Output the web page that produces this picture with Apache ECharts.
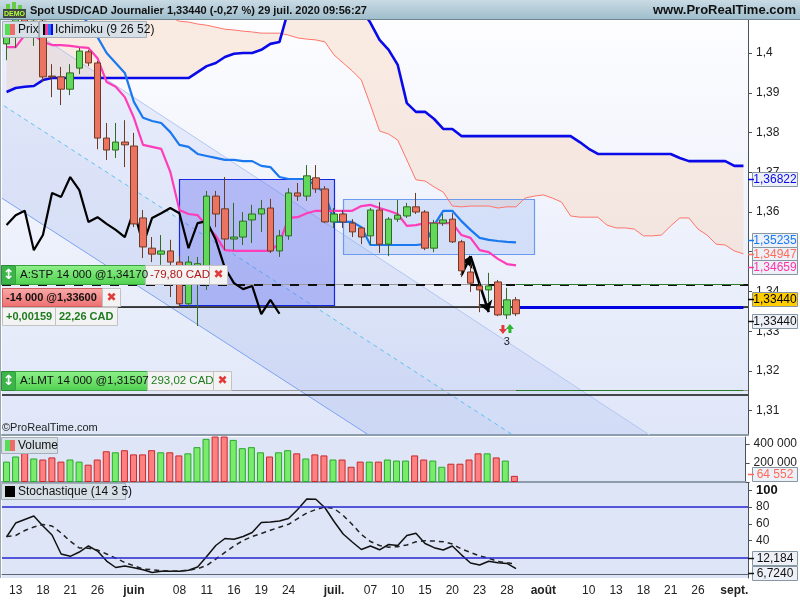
<!DOCTYPE html>
<html>
<head>
<meta charset="utf-8">
<script src="https://cdn.jsdelivr.net/npm/echarts@6.0.0/dist/echarts.min.js"></script>
<style>
html,body{margin:0;padding:0;background:#ffffff;}
#chart{width:800px;height:600px;}
</style>
</head>
<body>
<div id="chart"></div>
<script>
// ---------- categories (trading days) ----------
const dates = [
'2020-05-12','2020-05-13','2020-05-14','2020-05-15','2020-05-18','2020-05-19','2020-05-20','2020-05-21','2020-05-22','2020-05-25','2020-05-26','2020-05-27','2020-05-28','2020-05-29',
'2020-06-01','2020-06-02','2020-06-03','2020-06-04','2020-06-05','2020-06-08','2020-06-09','2020-06-10','2020-06-11','2020-06-12','2020-06-15','2020-06-16','2020-06-17','2020-06-18','2020-06-19','2020-06-22','2020-06-23','2020-06-24','2020-06-25','2020-06-26','2020-06-29','2020-06-30',
'2020-07-01','2020-07-02','2020-07-03','2020-07-06','2020-07-07','2020-07-08','2020-07-09','2020-07-10','2020-07-13','2020-07-14','2020-07-15','2020-07-16','2020-07-17','2020-07-20','2020-07-21','2020-07-22','2020-07-23','2020-07-24','2020-07-27','2020-07-28','2020-07-29','2020-07-30','2020-07-31',
'2020-08-03','2020-08-04','2020-08-05','2020-08-06','2020-08-07','2020-08-10','2020-08-11','2020-08-12','2020-08-13','2020-08-14','2020-08-17','2020-08-18','2020-08-19','2020-08-20','2020-08-21','2020-08-24','2020-08-25','2020-08-26','2020-08-27','2020-08-28','2020-08-31',
'2020-09-01','2020-09-02'];

const tickDates = ['2020-05-13','2020-05-18','2020-05-21','2020-05-26','2020-06-01','2020-06-08','2020-06-11','2020-06-16','2020-06-19','2020-06-24','2020-07-01','2020-07-07','2020-07-10','2020-07-15','2020-07-20','2020-07-23','2020-07-28','2020-08-03','2020-08-10','2020-08-13','2020-08-18','2020-08-21','2020-08-26','2020-09-01'];
const tickTexts = ['13','18','21','26','juin','08','11','16','19','24','juil.','07','10','15','20','23','28','août','10','13','18','21','26','sept.'];
const monthTexts = ['juin','juil.','août','sept.'];

const priceTicks = [1.31,1.32,1.33,1.34,1.35,1.36,1.37,1.38,1.39,1.40];
const stochTicks = [40,60,80,100];

// ---------- candles [open, close, low, high] ----------
const candles = [
[1.4023,1.4048,1.3982,1.4068],[1.4048,1.4085,1.4013,1.4110],[1.4085,1.4065,1.4040,1.4130],[1.4065,1.4080,1.4018,1.4105],
[1.4080,1.3940,1.3927,1.4095],[1.3942,1.3940,1.3889,1.3972],[1.3940,1.3909,1.3869,1.3965],[1.3909,1.3950,1.3894,1.3972],
[1.3962,1.4005,1.3947,1.4013],[1.4003,1.3975,1.3967,1.4008],[1.3975,1.3786,1.3758,1.3980],[1.3786,1.3756,1.3731,1.3824],
[1.3756,1.3776,1.3736,1.3824],[1.3776,1.3769,1.3713,1.3831],
[1.3766,1.3570,1.3562,1.3799],[1.3585,1.3512,1.3484,1.3605],[1.3509,1.3494,1.3474,1.3537],[1.3494,1.3502,1.3467,1.3542],
[1.3502,1.3474,1.3386,1.3530],[1.3474,1.3369,1.3361,1.3490],[1.3369,1.3474,1.3361,1.3489],[1.3445,1.3470,1.3313,1.3487],
[1.3421,1.3640,1.3404,1.3653],[1.3640,1.3595,1.3562,1.3653],[1.3608,1.3532,1.3504,1.3688],[1.3532,1.3537,1.3504,1.3623],
[1.3537,1.3577,1.3517,1.3600],[1.3580,1.3595,1.3522,1.3618],[1.3595,1.3608,1.3550,1.3630],[1.3610,1.3502,1.3497,1.3633],
[1.3502,1.3540,1.3487,1.3555],[1.3540,1.3648,1.3530,1.3660],[1.3648,1.3640,1.3628,1.3673],[1.3640,1.3691,1.3628,1.3718],
[1.3686,1.3658,1.3648,1.3718],[1.3658,1.3575,1.3572,1.3665],
[1.3575,1.3595,1.3560,1.3610],[1.3595,1.3575,1.3560,1.3605],[1.3572,1.3550,1.3537,1.3582],[1.3560,1.3537,1.3519,1.3562],
[1.3540,1.3605,1.3517,1.3610],[1.3605,1.3519,1.3497,1.3625],[1.3519,1.3582,1.3489,1.3587],[1.3582,1.3592,1.3575,1.3630],
[1.3590,1.3613,1.3585,1.3623],[1.3613,1.3600,1.3595,1.3648],[1.3600,1.3509,1.3504,1.3605],[1.3509,1.3572,1.3499,1.3580],
[1.3572,1.3580,1.3565,1.3595],[1.3582,1.3525,1.3522,1.3597],[1.3525,1.3452,1.3436,1.3530],[1.3449,1.3421,1.3399,1.3467],
[1.3414,1.3404,1.3348,1.3421],[1.3404,1.3414,1.3374,1.3447],[1.3424,1.3341,1.3338,1.3429],[1.3341,1.3379,1.3331,1.3409],
[1.3379,1.3344,1.3338,1.3386]];

const volumes = [214000,268000,304000,247000,236000,258000,214000,236000,214000,182000,236000,323000,312000,334000,
290000,290000,334000,312000,312000,279000,301000,366000,453000,520000,510000,442000,355000,366000,312000,268000,
312000,334000,301000,247000,290000,279000,236000,236000,160000,214000,214000,214000,236000,225000,225000,279000,
236000,225000,160000,192000,192000,236000,301000,301000,258000,225000,64552];

// ---------- Ichimoku (9 26 52) ----------
const tenkan = [1.4015,1.4015,1.4045,1.4045,1.4028,1.4020,1.4020,1.4018,1.4015,1.4013,1.3987,1.3927,1.3915,1.3889,
1.3837,1.3769,1.3764,1.3759,1.3701,1.3605,1.3595,1.3592,1.3565,1.3540,1.3504,1.3502,1.3502,1.3502,1.3502,1.3502,
1.3522,1.3585,1.3587,1.3597,1.3603,1.3603,1.3603,1.3603,1.3603,1.3615,1.3618,1.3610,1.3603,1.3595,1.3565,1.3567,
1.3572,1.3572,1.3572,1.3572,1.3542,1.3535,1.3504,1.3499,1.3482,1.3469,1.34659];

const kijun = [1.4100,1.4100,1.4100,1.4100,1.4100,1.4100,1.4100,1.4100,1.4100,1.4075,1.4040,1.4000,1.3975,1.3950,
1.3877,1.3837,1.3829,1.3824,1.3801,1.3769,1.3764,1.3746,1.3741,1.3736,1.3731,1.3731,1.3728,1.3728,1.3716,1.3713,
1.3688,1.3683,1.3683,1.3683,1.3665,1.3648,1.3575,1.3575,1.3575,1.3562,1.3517,1.3517,1.3517,1.3517,1.3517,1.3517,
1.3519,1.3567,1.3603,1.3603,1.3577,1.3555,1.3535,1.3530,1.3527,1.3525,1.35235];

const chikou = [1.3567,1.3592,1.3603,1.3504,1.3542,1.3648,1.3638,1.3688,1.3655,1.3575,1.3587,1.3570,1.3555,1.3537,
1.3605,1.3517,1.3585,1.3597,1.3610,1.3597,1.3509,1.3572,1.3577,1.3530,1.3459,1.3421,1.3406,1.3414,1.3343,1.3379,1.3344];

const spanA = [1.3902,1.3912,1.3915,1.3917,1.3932,
1.3937,1.3937,1.3937,1.3937,1.3937,1.3937,1.3937,1.3937,1.3937,1.3937,1.3937,1.3937,1.3937,1.3937,1.3937,1.3937,
1.3952,1.3967,1.3975,1.3990,1.3998,1.4000,1.4000,1.4008,1.4023,1.4028,
1.4110,1.4150,1.4150,1.4150,1.4150,1.4150,1.4150,1.4150,
1.4110,1.4076,1.4033,1.4008,1.3970,1.3874,1.3852,1.3852,1.3834,1.3809,1.3809,
1.3791,1.3791,1.3791,1.3791,1.3791,1.3791,1.3791,1.3791,1.3791,1.3791,1.3791,1.3791,1.3791,
1.3776,1.3759,
1.3746,1.3746,1.3746,1.3746,1.3746,1.3746,1.3746,1.3746,1.3746,
1.3736,1.3728,1.3728,1.3728,1.3728,1.3728,1.3716,1.3716];

const spanB = [1.4150,1.4150,1.4150,1.4150,1.4150,1.4150,1.4150,1.4150,1.4150,1.4150,1.4150,1.4150,1.4150,1.4150,1.4150,1.4150,1.4150,
1.4110,1.4090,1.4080,1.4078,1.4073,1.4070,1.4065,1.4060,1.4058,1.4055,1.4053,1.4050,1.4050,1.4050,1.4045,1.4038,
1.4035,1.4033,1.4028,1.3995,1.3975,1.3955,1.3932,1.3869,1.3804,1.3796,1.3781,1.3731,1.3681,1.3678,1.3663,1.3650,
1.3615,1.3613,1.3615,1.3615,1.3615,1.3610,1.3613,1.3613,1.3635,1.3640,1.3643,1.3635,1.3625,1.3590,1.3587,1.3587,
1.3587,1.3567,1.3560,1.3560,1.3557,1.3540,1.3540,1.3542,1.3565,1.3585,1.3585,1.3557,1.3542,1.3519,1.3517,1.3502,1.34947];

// ---------- Stochastique (14 3 5) ----------
const stochK = [44.4,61,65.2,69.4,57.5,46.8,24.2,21.4,26.5,33.7,27.7,15.8,8.1,9.9,7.9,5.4,2.1,3.5,3.6,3.6,4.9,8.7,
21.2,34.3,42.6,41.7,45,49.8,61.7,62.3,63.5,66.4,77.1,89.6,89.3,79.2,62.9,48,38.5,29.5,33.7,29.2,35.5,34.3,46.2,
48.8,36.7,31.7,28.9,33.7,23.2,13.5,11.1,15.6,13.8,12.9,6.724];
const stochD = [45,46.2,52.1,56.3,59.3,57.5,49.2,39.3,31.3,31,28.9,24.2,19.2,14,10.2,6.3,5.4,4.4,3.7,3.9,4.9,6.7,
10.5,18.2,26,33.7,40.2,45,48.6,52.4,56.1,59.5,66.4,73,77.1,80.1,78.3,70.2,59.3,47.4,39,34.3,32.3,32.9,34.9,38.7,
40,39.6,38.8,36.1,30.1,26,22,19.2,15.2,13.8,12.184];
const stochLevels = [80, 20];

// ---------- drawings & orders ----------
const channelUpper = [[-1, 1.4113], [71, 1.3034]];
const channelMiddle = [[-1, 1.3878], [56, 1.3034]];
const channelLower = [[-1, 1.3642], [40, 1.3036]];
const rectangles = [
  {from:'2020-06-08', to:'2020-07-01', top:1.3683, bottom:1.3366},
  {from:'2020-07-02', to:'2020-07-31', top:1.3633, bottom:1.3494}
];
const arrows = [[['2020-07-21',1.3441],['2020-07-22',1.3489]], [['2020-07-22',1.3489],['2020-07-24',1.3348]]];
const stopLevel = 1.3417, positionLevel = 1.3360, limitLevel = 1.31507;
const userLines = [1.3362, 1.3141];
const lastPrice = 1.33440;
const axisTagValues = [1.36822, 1.35235, 1.34947, 1.34659];
const lastVolume = 64552, lastK = 6.724, lastD = 12.184;

// ---------- chart ----------
const FONT = "'Liberation Sans', Arial, sans-serif";
const chart = echarts.init(document.getElementById('chart'), null, {renderer:'canvas', width:800, height:600});

function clipGroup(params, children){
  const cs = params.coordSys;
  return {type:'group', clipPath:{type:'rect', shape:{x:cs.x, y:cs.y, width:cs.width, height:cs.height}}, children:children};
}

const upBar = '#79ec6c', upBorder = '#2aa82a', dnBar = '#ff8080', dnBorder = '#c82a2a';
const volData = volumes.map((v,k)=>{
  const up = candles[k][1] >= candles[k][0];
  return {value:v, itemStyle:{color: up?upBar:dnBar, borderColor: up?upBorder:dnBorder, borderWidth:1}};
});

const priceGridBg = new echarts.graphic.LinearGradient(0,0,0,1,[
  {offset:0,color:'#fdfdff'},{offset:0.45,color:'#f0f3fc'},{offset:1,color:'#dfe6f8'}]);

function xAxisCommon(gi, showLabel){
  return {
    type:'category', gridIndex:gi, data:dates, boundaryGap:true,
    axisLine:{show:true, lineStyle:{color: gi===2?'#5a6670':'#8d9caa', width: gi===2?1:2}},
    axisTick:{show:false}, splitLine:{show:false},
    axisLabel: showLabel ? {
      show:true, color:'#222', fontSize:12, margin:7, fontFamily:FONT,
      interval:(idx, val)=> tickDates.indexOf(val) >= 0,
      formatter:(val)=>{ const t = tickTexts[tickDates.indexOf(val)]; if (t===undefined) return ''; return monthTexts.indexOf(t)>=0 ? '{b|'+t+'}' : t; },
      rich:{b:{fontWeight:'bold', fontSize:12, color:'#222'}}
    } : {show:false}
  };
}

const option = {
  animation:false,
  backgroundColor:'#ffffff',
  textStyle:{fontFamily:FONT},
  grid:[
    {left:2, right:52, top:20, height:415, show:true, backgroundColor:priceGridBg, borderWidth:0},
    {left:2, right:52, top:437, height:45, show:true, backgroundColor:'#dde5f7', borderWidth:0},
    {left:2, right:52, top:483, height:95, show:true, backgroundColor:'#dde5f7', borderWidth:0}
  ],
  xAxis:[xAxisCommon(0,false), xAxisCommon(1,false), xAxisCommon(2,true)],
  yAxis:[
    {type:'value', gridIndex:0, position:'right', min:1.30389, max:1.40831, scale:true,
     axisLine:{show:true, lineStyle:{color:'#4a525a'}}, splitLine:{show:false},
     axisTick:{show:true, length:4, customValues:priceTicks, lineStyle:{color:'#4a525a'}},
     axisLabel:{customValues:priceTicks, color:'#222', fontSize:12, margin:8,
       formatter:(v)=>{ let s=v.toFixed(2); if(s.endsWith('0')) s=s.slice(0,-1); return s.replace('.',','); }}},
    {type:'value', gridIndex:1, position:'right', min:0, max:472500, interval:200000,
     axisLine:{show:true, lineStyle:{color:'#4a525a'}}, splitLine:{show:false},
     axisTick:{show:true, length:4, lineStyle:{color:'#4a525a'}},
     axisLabel:{color:'#222', fontSize:12, margin:8, showMaxLabel:false,
       formatter:(v)=> v===0 ? '' : (v/1000)+' 000'}},
    {type:'value', gridIndex:2, position:'right', min:-4.4, max:108.7,
     axisLine:{show:true, lineStyle:{color:'#4a525a'}}, splitLine:{show:false},
     axisTick:{show:true, length:4, customValues:stochTicks, lineStyle:{color:'#4a525a'}},
     axisLabel:{customValues:stochTicks, color:'#222', fontSize:12, margin:8,
       formatter:(v)=> v===100 ? '{b|100}' : String(v),
       rich:{b:{fontWeight:'bold', fontSize:13, color:'#111'}}}}
  ],
  series:[
    // Ichimoku cloud
    {type:'custom', name:'cloud', xAxisIndex:0, yAxisIndex:0, z:1, silent:true, data:[[0,1.36]],
     renderItem:(params, api)=>{
       const pts=[];
       spanA.forEach((v,k)=>pts.push(api.coord([k,v])));
       for(let k=spanB.length-1;k>=0;k--) pts.push(api.coord([k,spanB[k]]));
       return clipGroup(params,[{type:'polygon', shape:{points:pts}, style:{fill:'rgba(247,218,198,0.5)'}}]);
     }},
    // trend channel
    {type:'custom', name:'channel', xAxisIndex:0, yAxisIndex:0, z:2, silent:true, data:[[0,1.36]],
     renderItem:(params, api)=>{
       const u0=api.coord(channelUpper[0]), u1=api.coord(channelUpper[1]);
       const l0=api.coord(channelLower[0]), l1=api.coord(channelLower[1]);
       const m0=api.coord(channelMiddle[0]), m1=api.coord(channelMiddle[1]);
       return clipGroup(params,[
         {type:'polygon', shape:{points:[u0,u1,l1,l0]}, style:{fill:'rgba(140,165,235,0.16)'}},
         {type:'polygon', shape:{points:[m0,m1,l1,l0]}, style:{fill:'rgba(140,165,235,0.08)'}},
         {type:'line', shape:{x1:u0[0],y1:u0[1],x2:u1[0],y2:u1[1]}, style:{stroke:'#b2c6f2', lineWidth:1}},
         {type:'line', shape:{x1:m0[0],y1:m0[1],x2:m1[0],y2:m1[1]}, style:{stroke:'#5cc0f0', lineWidth:1, lineDash:[4,4]}},
         {type:'line', shape:{x1:l0[0],y1:l0[1],x2:l1[0],y2:l1[1]}, style:{stroke:'#7ea2f2', lineWidth:1}}
       ]);
     }},
    // rectangles
    {type:'custom', name:'rects', xAxisIndex:0, yAxisIndex:0, z:3, silent:true, data:[[0,1.36]],
     renderItem:(params, api)=>{
       const styles=[{fill:'rgba(100,110,240,0.375)', stroke:'#1428e0'},{fill:'rgba(120,160,240,0.22)', stroke:'#6a9bef'}];
       const ch = rectangles.map((r,i)=>{
         const p1=api.coord([r.from,r.top]), p2=api.coord([r.to,r.bottom]);
         return {type:'rect', shape:{x:Math.round(p1[0])+0.5, y:Math.round(p1[1])+0.5, width:Math.round(p2[0]-p1[0]), height:Math.round(p2[1]-p1[1])},
                 style:{fill:styles[i].fill, stroke:styles[i].stroke, lineWidth:1.2}};
       });
       return clipGroup(params, ch);
     }},
    {type:'line', name:'SpanB', xAxisIndex:0, yAxisIndex:0, z:4, data:spanB, showSymbol:false, silent:true,
     lineStyle:{color:'#ff7468', width:1}},
    {type:'line', name:'SpanA', xAxisIndex:0, yAxisIndex:0, z:4, data:spanA, showSymbol:false, silent:true,
     lineStyle:{color:'#0a0ae8', width:2.6}},
    {type:'line', name:'Kijun', xAxisIndex:0, yAxisIndex:0, z:5, data:kijun, showSymbol:false, silent:true,
     lineStyle:{color:'#1a78f0', width:2.2}},
    {type:'line', name:'Tenkan', xAxisIndex:0, yAxisIndex:0, z:5, data:tenkan, showSymbol:false, silent:true,
     lineStyle:{color:'#ff3db8', width:2.2}},
    {type:'line', name:'Chikou', xAxisIndex:0, yAxisIndex:0, z:5, data:chikou, showSymbol:false, silent:true,
     lineStyle:{color:'#000000', width:2.2}},
    {type:'candlestick', name:'Prix', xAxisIndex:0, yAxisIndex:0, z:6, data:candles, barWidth:7, silent:true,
     itemStyle:{color:'#62d85a', color0:'#ea7461', borderColor:'#2f6b22', borderColor0:'#6e3a22', borderWidth:1},
     markLine:{silent:true, symbol:'none', precision:6, label:{show:false}, animation:false,
       data:[
         {yAxis:stopLevel, lineStyle:{color:'#9a9a9a', width:1, type:'solid'}},
         {yAxis:stopLevel, lineStyle:{color:'#111', width:2, type:[9,9]}},
         {yAxis:positionLevel, lineStyle:{color:'#9a9a9a', width:1, type:'solid'}},
         {yAxis:userLines[0], lineStyle:{color:'#111', width:1.5, type:'solid'}},
         {yAxis:limitLevel, lineStyle:{color:'#9a9a9a', width:1, type:'solid'}},
         {yAxis:userLines[1], lineStyle:{color:'#111', width:1.5, type:'solid'}},
         [{coord:['2020-07-29', stopLevel], lineStyle:{color:'#2a7a2a', width:1, type:'solid'}},{coord:['2020-09-02', stopLevel]}],
         [{coord:['2020-07-29', limitLevel], lineStyle:{color:'#2a7a2a', width:1, type:'solid'}},{coord:['2020-09-02', limitLevel]}],
         [{coord:['2020-07-29', (positionLevel+userLines[0])/2], lineStyle:{color:'#0000e0', width:3.2, type:'solid'}},{coord:['2020-09-02', (positionLevel+userLines[0])/2]}],
         [{coord:arrows[0][0], symbol:'none', lineStyle:{color:'#000', width:2.6, type:'solid'}},{coord:arrows[0][1], symbol:'arrow', symbolSize:11}],
         [{coord:arrows[1][0], symbol:'none', lineStyle:{color:'#000', width:2.6, type:'solid'}},{coord:arrows[1][1], symbol:'arrow', symbolSize:11}]
       ]}},
    {type:'bar', name:'Volume', xAxisIndex:1, yAxisIndex:1, data:volData, barWidth:7, silent:true},
    {type:'line', name:'%K', xAxisIndex:2, yAxisIndex:2, data:stochK, showSymbol:false, silent:true,
     lineStyle:{color:'#111', width:1.5},
     markLine:{silent:true, symbol:'none', precision:4, label:{show:false}, animation:false,
       lineStyle:{color:'#2626d0', width:1.5, type:'solid'},
       data: stochLevels.map(v=>({yAxis:v}))}},
    {type:'line', name:'%D', xAxisIndex:2, yAxisIndex:2, data:stochD, showSymbol:false, silent:true,
     lineStyle:{color:'#222', width:1.5, type:[5,4]}}
  ]
};
chart.setOption(option);

// ---------- overlays (texts, tags, order labels) ----------
function buildGraphics(){
  const P = v => chart.convertToPixel({yAxisIndex:0}, v);
  const V = v => chart.convertToPixel({yAxisIndex:1}, v);
  const S = v => chart.convertToPixel({yAxisIndex:2}, v);
  const X = d => chart.convertToPixel({xAxisIndex:0}, d);
  const g = [];
  const rect=(x,y,w,h,fill,stroke)=>({type:'rect', z:100, silent:true, shape:{x:x,y:y,width:w,height:h}, style:{fill:fill, stroke:stroke||null, lineWidth:1}});
  const text=(x,y,t,fill,font,align)=>({type:'text', z:102, silent:true, style:{x:x,y:y,text:t,fill:fill,font:font||('12px '+FONT),align:align||'left',verticalAlign:'middle'}});
  const line=(x1,y1,x2,y2,stroke,w)=>({type:'line', z:101, silent:true, shape:{x1:x1,y1:y1,x2:x2,y2:y2}, style:{stroke:stroke, lineWidth:w||1}});
  const grad=(a,b)=>new echarts.graphic.LinearGradient(0,0,0,1,[{offset:0,color:a},{offset:1,color:b}]);

  // header
  g.push(rect(0,0,800,20,grad('#c9dbe4','#9dbccb')));
  g.push(line(0,19.5,800,19.5,'#6f8592',1));
  g.push(rect(3,9,23,9,'#3f4a44'));
  g.push(rect(6,4,4,5,'#66cc44')); g.push(rect(12,2,4,7,'#66cc44')); g.push(rect(18,5,4,4,'#66cc44'));
  g.push(text(14.5,13.8,'DEMO','#b6ff3c','bold 7px '+FONT,'center'));
  g.push(text(30,10.5,'Spot USD/CAD Journalier 1,33440 (-0,27 %) 29 juil. 2020 09:56:27','#111','bold 11px '+FONT));
  g.push(text(796,10.5,'www.ProRealTime.com','#111','bold 13px '+FONT,'right'));

  // left border
  g.push(line(0.5,20,0.5,578,'#9aa6b0',1));

  // legends
  g.push(rect(2.5,21.5,36,16,'#d8e0e7','#a2afb9'));
  g.push(rect(5,24,5,11,'#55dd55')); g.push(rect(10,24,5,11,'#ee6b6b'));
  g.push(text(18,30,'Prix','#111','12px '+FONT));
  g.push(rect(39.5,21.5,107,16,'#d8e0e7','#a2afb9'));
  g.push(rect(43,24,2.5,11,'#000')); g.push(rect(45.5,24,2.5,11,'#ff33aa')); g.push(rect(48,24,2.5,11,'#1a78f0')); g.push(rect(50.5,24,2.5,11,'#0a0ae8'));
  g.push(text(55,30,'Ichimoku (9 26 52)','#111','12px '+FONT));
  g.push(text(2,428,'©ProRealTime.com','#222','11px '+FONT));

  g.push(rect(1.5,437.5,56,16,'#d8e0e7','#a2afb9'));
  g.push(rect(5,440,5,11,'#55dd55')); g.push(rect(10,440,5,11,'#ee6b6b'));
  g.push(text(18,446,'Volume','#111','12px '+FONT));
  g.push(rect(1.5,483.5,124,16,'#d8e0e7','#a2afb9'));
  g.push(rect(5,486,10,11,'#000'));
  g.push(text(18,492,'Stochastique (14 3 5)','#111','12px '+FONT));

  // order labels
  const greenGrad = grad('#8ff08a','#4fd04f');
  const redGrad = grad('#f9aaaa','#ee6f6f');
  const ys = Math.round(P(stopLevel));
  g.push(rect(1.5,ys-19.5,14,19,'#3bb54a','#2a8a35'));
  g.push(text(8.5,ys-10,'↕','#ffffff','bold 14px DejaVu Sans','center'));
  g.push(rect(15.5,ys-19.5,130,19,greenGrad,'#3aa23a'));
  g.push(text(20,ys-10,'A:STP 14 000 @1,34170','#111','11.5px '+FONT));
  g.push(rect(145.5,ys-19.5,64,19,'#f3f3f3','#c2c2c2'));
  g.push(text(150,ys-10,'-79,80 CAD','#b01818','11.5px '+FONT));
  g.push(rect(209.5,ys-19.5,18,19,'#f3f3f3','#c2c2c2'));
  g.push(text(218.5,ys-10,'✖','#e03a3a','bold 12px DejaVu Sans','center'));

  const yp = Math.round(P(positionLevel));
  g.push(rect(2.5,yp-18.5,100,18,redGrad,'#d06060'));
  g.push(text(6,yp-9.5,'-14 000 @1,33600','#111','bold 11px '+FONT));
  g.push(rect(102.5,yp-18.5,18,18,'#f3f3f3','#c2c2c2'));
  g.push(text(111.5,yp-9.5,'✖','#e03a3a','bold 12px DejaVu Sans','center'));
  g.push(rect(2.5,yp+0.5,53,18,'#f3f3f3','#c2c2c2'));
  g.push(text(6,yp+9.5,'+0,00159','#1f7a1f','bold 11px '+FONT));
  g.push(rect(55.5,yp+0.5,62,18,'#f3f3f3','#c2c2c2'));
  g.push(text(59,yp+9.5,'22,26 CAD','#1f7a1f','bold 11px '+FONT));

  const yl = Math.round(P(limitLevel));
  g.push(rect(1.5,yl-19.5,14,19,'#3bb54a','#2a8a35'));
  g.push(text(8.5,yl-10,'↕','#ffffff','bold 14px DejaVu Sans','center'));
  g.push(rect(15.5,yl-19.5,132,19,greenGrad,'#3aa23a'));
  g.push(text(20,yl-10,'A:LMT 14 000 @1,31507','#111','11.5px '+FONT));
  g.push(rect(147.5,yl-19.5,66,19,'#f3f3f3','#c2c2c2'));
  g.push(text(151,yl-10,'293,02 CAD','#1f7a1f','11.5px '+FONT));
  g.push(rect(213.5,yl-19.5,18,19,'#f3f3f3','#c2c2c2'));
  g.push(text(222.5,yl-10,'✖','#e03a3a','bold 12px DejaVu Sans','center'));

  // signal marker under the candle of 28 juil.
  const mx = X('2020-07-28'), my = P(candles[55][2]);
  const cr = mx-4, cg = mx+3;
  g.push({type:'polygon', z:101, silent:true, shape:{points:[[cr-1.5,my+6],[cr+1.5,my+6],[cr+1.5,my+10],[cr+4,my+10],[cr,my+15],[cr-4,my+10],[cr-1.5,my+10]]}, style:{fill:'#e03a3a'}});
  g.push({type:'polygon', z:101, silent:true, shape:{points:[[cg,my+5],[cg+4,my+10],[cg+1.5,my+10],[cg+1.5,my+14],[cg-1.5,my+14],[cg-1.5,my+10],[cg-4,my+10]]}, style:{fill:'#2fb52f'}});
  g.push(text(mx,my+23,'3','#222','11px '+FONT,'center'));

  // right axis tags
  const tag=(y,t,color,bg)=>{
    g.push(line(748,Math.round(y)+0.5,754,Math.round(y)+0.5,color,1.5));
    g.push(rect(752.5,Math.round(y)-6.5,45,14,bg||'#edf1f7','#8796a3'));
    g.push(text(775,Math.round(y)+0.5,t,color,'12px '+FONT,'center'));
  };
  const tagColors = ['#0a0ae8','#1a78f0','#ff6a5a','#ff33aa'];
  const tagShift = [0,-2,0,1.5];
  axisTagValues.forEach((v,i)=>tag(P(v)+tagShift[i], v.toFixed(5).replace('.',','), tagColors[i]));
  tag(P(lastPrice)-15, lastPrice.toFixed(5).replace('.',','), '#000', '#ffcc00');
  tag(P(lastPrice)+7, lastPrice.toFixed(5).replace('.',','), '#111');
  tag(V(lastVolume)-1.5, '64 552', '#ff6a5a');
  tag(S(lastD)-5.7, String(lastD).replace('.',','), '#111');
  tag(S(lastK)+4.7, '6,7240', '#111');

  chart.setOption({graphic:{elements:g}});
}
buildGraphics();
</script>
</body>
</html>
